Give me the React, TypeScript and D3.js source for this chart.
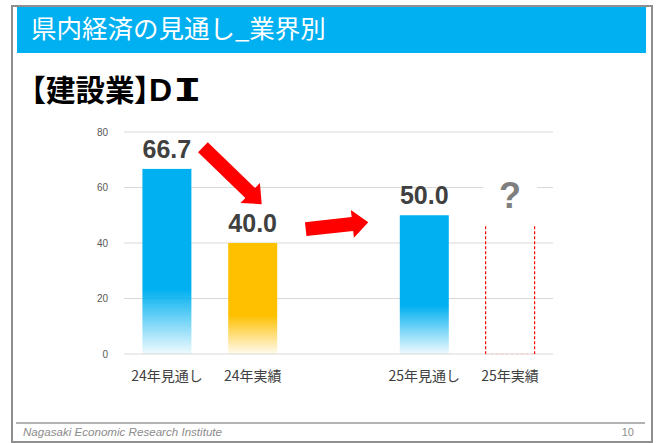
import React from "react";
import * as d3 from "d3";

const headerTitle = "県内経済の見通し_業界別";
const titleOpen = "【";
const titleWord = "建設業";
const titleClose = "】";
const titleD = "D";
const titleI = "I";
const footerText = "Nagasaki Economic Research Institute";
const pageNumber = "10";

const categories = ["24年見通し", "24年実績", "", "25年見通し", "25年実績"];
const values: (number | null)[] = [66.7, 40.0, null, 50.0, null];
const barColors = ["#00B0F0", "#FFC000", "none", "#00B0F0", "none"];
const yTicks = [0, 20, 40, 60, 80];
const unknownIndex = 4;
const unknownPlaceholder = 46;
const unknownLabel = "?";

const W = 658;
const H = 443;

export default function App() {
  const x = d3
    .scaleBand<number>()
    .domain(categories.map((_, i) => i))
    .range([124, 553])
    .paddingInner(0.429)
    .paddingOuter(0.2145);
  const y = d3.scaleLinear().domain([0, 80]).range([354, 132]);
  const bw = x.bandwidth();
  const cx = (i: number) => (x(i) as number) + bw / 2;

  const arrow = (x1: number, y1: number, x2: number, y2: number) => {
    const L = Math.hypot(x2 - x1, y2 - y1);
    const ang = (Math.atan2(y2 - y1, x2 - x1) * 180) / Math.PI;
    const w = 7, h = 16, hw = 14;
    const pts = [
      [0, -w], [L - h, -w], [L - h, -hw], [L, 0], [L - h, hw], [L - h, w], [0, w],
    ];
    return (
      <polygon
        points={pts.map((p) => p.join(",")).join(" ")}
        transform={`translate(${x1},${y1}) rotate(${ang})`}
        fill="#FF0000"
      />
    );
  };

  const uTop = y(unknownPlaceholder);
  const ux0 = x(unknownIndex) as number;
  const cjk = "'Noto Sans CJK JP', sans-serif";

  return (
    <svg
      width={W}
      height={H}
      style={{ position: "absolute", left: 0, top: 0, background: "#fff" }}
      fontFamily="'Noto Sans CJK JP', 'Liberation Sans', Arial, sans-serif"
    >
      <defs>
        {barColors.map((c, i) =>
          c === "none" ? null : (
            <linearGradient key={i} id={`g${i}`} x1="0" y1="0" x2="0" y2="1">
              <stop offset="0" stopColor={c} stopOpacity={1} />
              <stop offset="0.65" stopColor={c} stopOpacity={1} />
              <stop offset="1" stopColor={c} stopOpacity={0.06} />
            </linearGradient>
          )
        )}
      </defs>
      <rect x={0} y={0} width={W} height={H} fill="#fff" />
      <rect x={12} y={6} width={640} height={436} fill="none" stroke="#8f8f8f" strokeWidth={2} />
      <rect x={17} y={7} width={629} height={46} fill="#00B0F0" />
      <text x={31} y={38} fontSize={25.5} fill="#fff" fontFamily={cjk}>
        {headerTitle}
      </text>

      <text y={101} fontWeight="bold" fill="#000" fontFamily={cjk} fontSize={30}>
        <tspan x={16}>{titleOpen}</tspan>
        <tspan x={46} fontSize={29.5}>{titleWord}</tspan>
        <tspan x={134} letterSpacing={-15}>{titleClose}</tspan>
        <tspan fontSize={32} fontFamily="'Liberation Sans', Arial, sans-serif">{titleD}</tspan>
      </text>
      <text
        transform="translate(187.5,101) scale(1.5,1)"
        textAnchor="middle"
        fontWeight="bold"
        fontSize={32}
        fill="#000"
        fontFamily="'DejaVu Sans Mono', monospace"
      >
        {titleI}
      </text>

      {yTicks.map((t) => (
        <g key={t}>
          <line x1={124} x2={553} y1={y(t)} y2={y(t)} stroke="#d9d9d9" strokeWidth={1} />
          <text
            x={108}
            y={y(t)}
            dy="0.35em"
            textAnchor="end"
            fontSize={10}
            fill="#595959"
            fontFamily="'Liberation Sans', Arial, sans-serif"
          >
            {t}
          </text>
        </g>
      ))}

      {values.map((v, i) =>
        v == null ? null : (
          <g key={i}>
            <rect x={x(i)} y={y(v)} width={bw} height={y(0) - y(v)} fill={`url(#g${i})`} />
            <text
              x={cx(i)}
              y={y(v) - 11}
              textAnchor="middle"
              fontSize={25}
              fontWeight="bold"
              fill="#404040"
              fontFamily="'Liberation Sans', Arial, sans-serif"
            >
              {v.toFixed(1)}
            </text>
          </g>
        )
      )}

      {/* unknown bar placeholder */}
      <line x1={ux0} x2={ux0} y1={uTop} y2={y(0)} stroke="#FF0000" strokeWidth={1.2} strokeDasharray="3,2" />
      <line x1={ux0 + bw} x2={ux0 + bw} y1={uTop} y2={y(0)} stroke="#FF0000" strokeWidth={1.2} strokeDasharray="3,2" />
      <line x1={ux0} x2={ux0 + bw} y1={y(0)} y2={y(0)} stroke="#f4c6c6" strokeWidth={1.2} strokeDasharray="3,2" />
      <rect x={cx(unknownIndex) - 27} y={y(62)} width={54} height={30} fill="#fff" />
      <text
        x={cx(unknownIndex)}
        y={y(52.5)}
        textAnchor="middle"
        fontSize={36}
        fontWeight="bold"
        fill="#7f7f7f"
        fontFamily="'Liberation Sans', Arial, sans-serif"
      >
        {unknownLabel}
      </text>

      {categories.map((c, i) => (
        <text
          key={i}
          x={cx(i)}
          y={381}
          textAnchor="middle"
          fontSize={14}
          fill="#404040"
          fontFamily={cjk}
        >
          {c}
        </text>
      ))}

      {arrow(cx(0) + 36, y(74.5), cx(1) + 9, y(54))}
      {arrow(cx(1) + 53, y(45), cx(3) - 56, y(47.5))}

      <line x1={16} x2={645} y1={423} y2={423} stroke="#b3b3b3" strokeWidth={2} />
      <text
        x={23}
        y={436}
        fontSize={11}
        fontStyle="italic"
        fill="#8c8c8c"
        textLength={199}
        lengthAdjust="spacingAndGlyphs"
        fontFamily="'Liberation Sans Narrow', 'Liberation Sans', Arial, sans-serif"
      >
        {footerText}
      </text>
      <text
        x={634}
        y={436}
        textAnchor="end"
        fontSize={11}
        fill="#8c8c8c"
        fontFamily="'Liberation Sans Narrow', 'Liberation Sans', Arial, sans-serif"
      >
        {pageNumber}
      </text>
    </svg>
  );
}
